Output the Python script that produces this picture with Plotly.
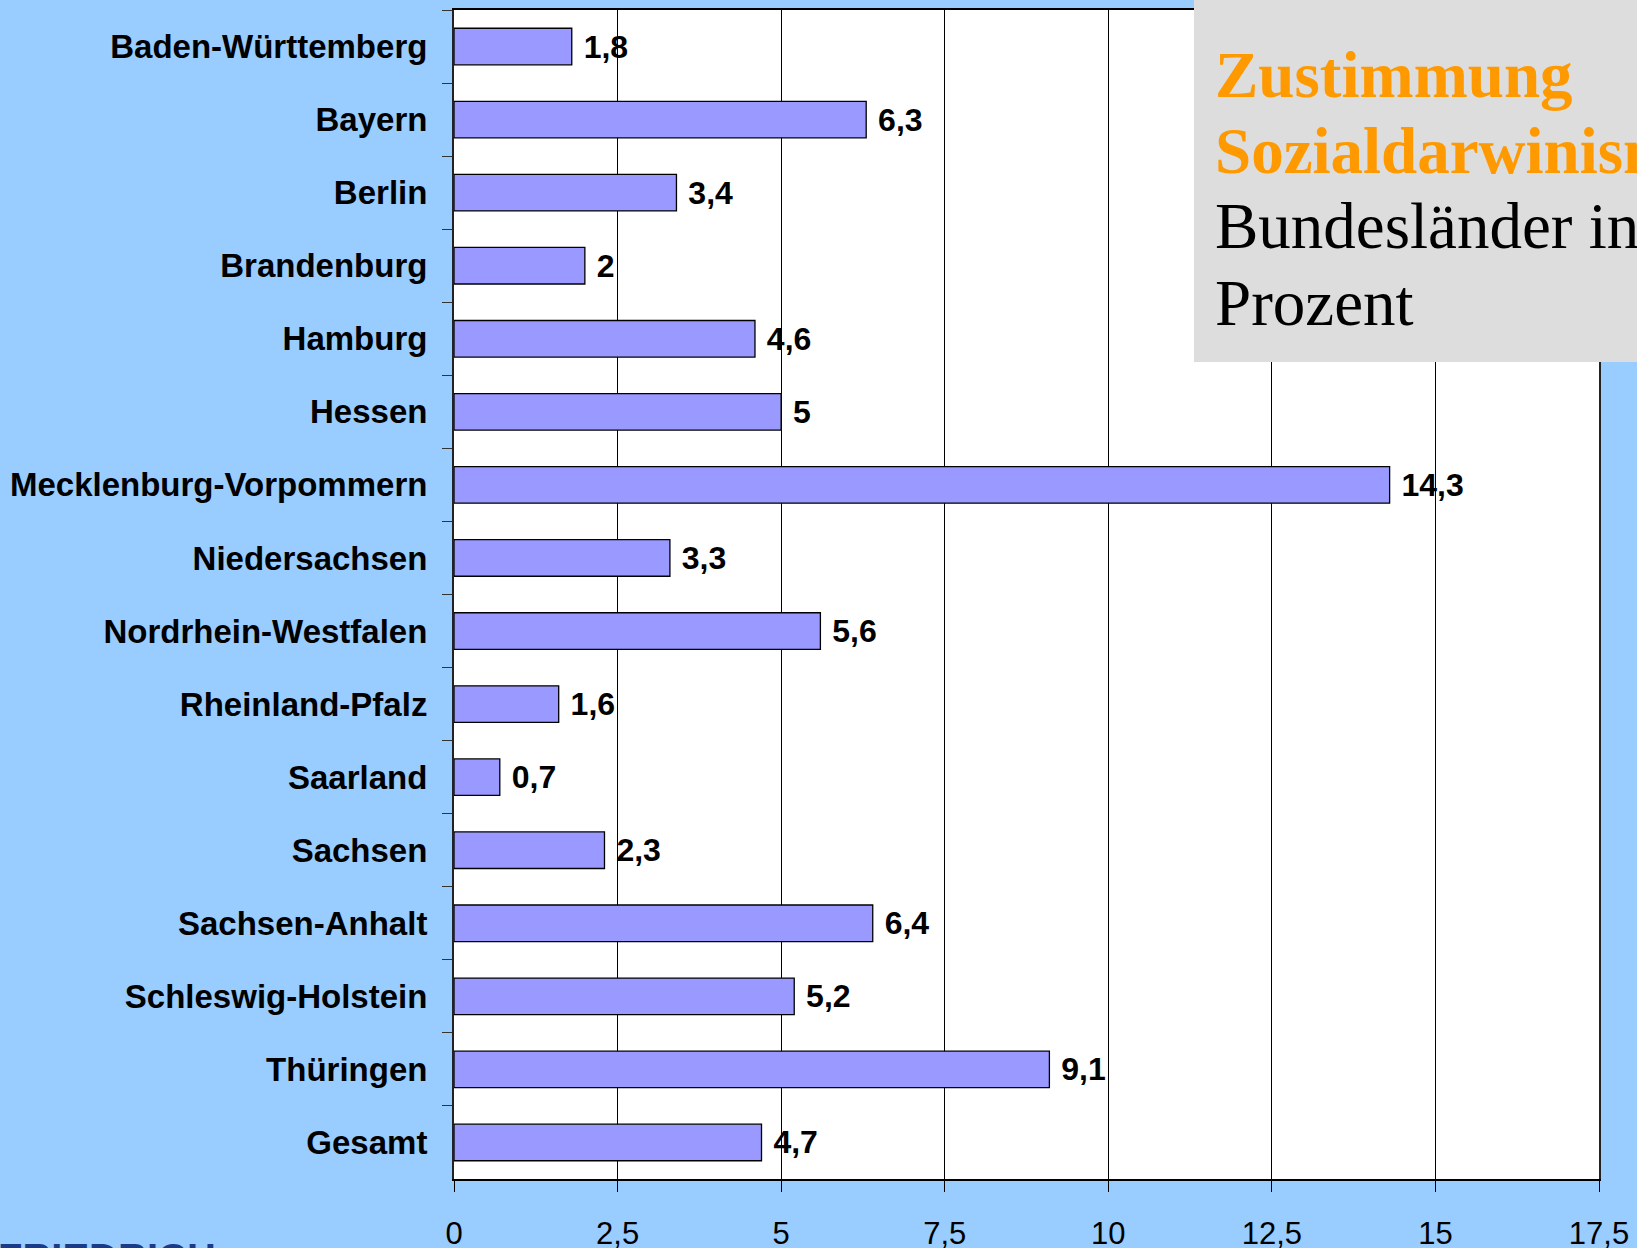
import plotly.graph_objects as go

# data
laender = ["Baden-Württemberg", "Bayern", "Berlin", "Brandenburg", "Hamburg", "Hessen",
           "Mecklenburg-Vorpommern", "Niedersachsen", "Nordrhein-Westfalen", "Rheinland-Pfalz",
           "Saarland", "Sachsen", "Sachsen-Anhalt", "Schleswig-Holstein", "Thüringen", "Gesamt"]
zustimmung = [1.8, 6.3, 3.4, 2.0, 4.6, 5.0, 14.3, 3.3, 5.6, 1.6, 0.7, 2.3, 6.4, 5.2, 9.1, 4.7]
tick_vals = [0, 2.5, 5, 7.5, 10, 12.5, 15, 17.5]
tick_text = ["0", "2,5", "5", "7,5", "10", "12,5", "15", "17,5"]
title_lines = ["Zustimmung", "Sozialdarwinismus", "Bundesländer in", "Prozent"]


def fmt(v):
    s = f"{v:g}"
    return "\u00a0" + s.replace(".", ",")


W, H = 1637, 1248
L, R, T, B = 454, 38, 10, 69
plot_h = H - T - B
plot_w = W - L - R


def py(pix):
    # pixel row -> paper y
    return (H - B - pix) / plot_h


def px(pix):
    return (pix - L) / plot_w


sans = "Liberation Sans, Arial, sans-serif"
serif = "Liberation Serif, Times New Roman, serif"

fig = go.Figure()
fig.add_trace(go.Bar(
    x=zustimmung, y=laender, orientation="h",
    marker=dict(color="#9999FF", line=dict(color="black", width=1.3)),
    text=[fmt(v) for v in zustimmung], textposition="outside",
    textfont=dict(family=sans, size=32, color="black", weight="bold"),
    cliponaxis=False,
))

fig.update_layout(
    width=W, height=H, autosize=False,
    margin=dict(l=L, r=R, t=T, b=B, pad=0),
    paper_bgcolor="#99CCFF", plot_bgcolor="white",
    showlegend=False, bargap=0.5,
    font=dict(family=sans, color="black"),
    xaxis=dict(range=[0, 17.5], tickvals=tick_vals, ticktext=tick_text, automargin=False,
               showgrid=True, gridcolor="black", gridwidth=1,
               showline=True, linecolor="black", linewidth=1.5, mirror=True,
               ticks="outside", ticklen=11, tickcolor="black",
               ticklabelstandoff=15,
               tickfont=dict(family=sans, size=31, color="black"), zeroline=False),
    yaxis=dict(autorange="reversed", automargin=False, showline=True, linecolor="#222",
               linewidth=2, mirror=True, ticks="outside", tickson="boundaries", ticklen=10,
               tickcolor="#333", showgrid=False, ticklabelstandoff=18,
               tickfont=dict(family=sans, size=33, color="black", weight="bold")),
)

# grey title box in the top right
fig.add_shape(type="rect", xref="paper", yref="paper",
              x0=px(1194), x1=px(W + 5), y0=py(362), y1=py(-5),
              fillcolor="#DDDDDD", line=dict(width=0), layer="above")

baselines = [97, 173, 248, 325]
for i, (line, base) in enumerate(zip(title_lines, baselines)):
    bold = i < 2
    fig.add_annotation(
        xref="paper", yref="paper", x=px(1213), y=py(base - 22),
        xanchor="left", yanchor="middle", showarrow=False, text=line,
        font=dict(family=serif, size=65, color="#FF9900" if bold else "black",
                  weight="bold" if bold else "normal"),
    )

# logo remnant at the bottom left, mostly cut off
fig.add_annotation(xref="paper", yref="paper", x=px(-4), y=py(1234),
                   xanchor="left", yanchor="top", showarrow=False, text="FRIEDRICH",
                   font=dict(family=sans, size=40, color="#1A3A8A", weight="bold"))

fig.write_html("out.html", config={"displayModeBar": False},
               post_script="document.body.style.margin='0';document.body.style.overflow='hidden';")
